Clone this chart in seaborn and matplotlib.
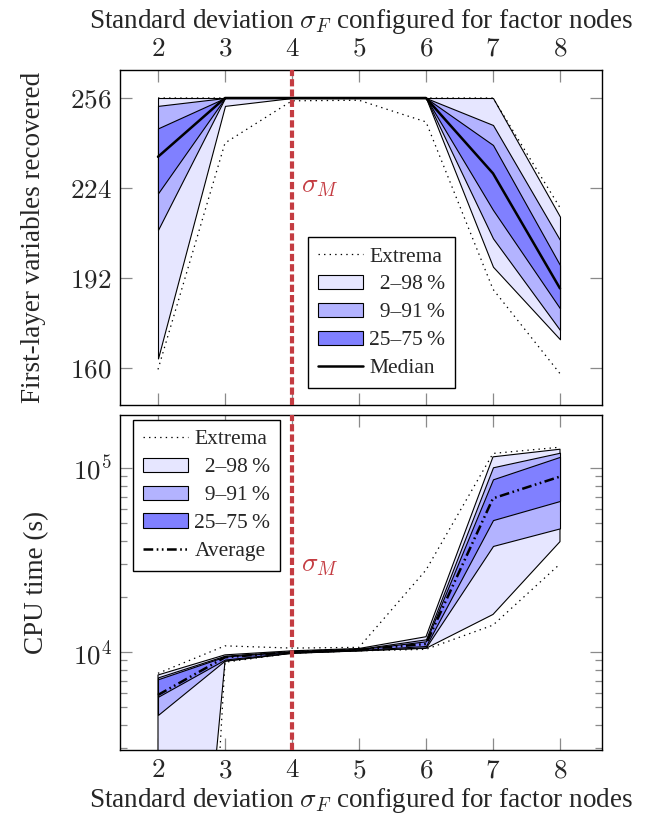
import numpy as np
import pandas as pd
import matplotlib
matplotlib.use("Agg")
import matplotlib.pyplot as plt
from matplotlib.lines import Line2D
from matplotlib.patches import Patch
from matplotlib.ticker import FixedLocator, LogLocator, NullFormatter, FuncFormatter
import seaborn as sns

# ---------------- data ----------------
sigma = [2, 3, 4, 5, 6, 7, 8]
xticks = [2, 3, 4, 5, 6, 7, 8]
sigma_M = 4

# first-layer variables recovered
rec_min = [159.5, 240.0, 255.0, 255.2, 247.5, 188.0, 158.0]
rec_p02 = [163.4, 253.2, 256.0, 256.0, 256.0, 196.0, 170.2]
rec_p09 = [209.1, 256.0, 256.0, 256.0, 256.0, 206.1, 173.5]
rec_p25 = [222.1, 256.0, 256.0, 256.0, 256.0, 216.2, 181.2]
rec_med = [235.1, 256.0, 256.0, 256.0, 256.0, 229.2, 188.3]
rec_p75 = [245.2, 256.0, 256.0, 256.0, 256.0, 239.3, 196.6]
rec_p91 = [253.2, 256.0, 256.0, 256.0, 256.0, 246.4, 205.5]
rec_p98 = [256.0, 256.0, 256.0, 256.0, 256.0, 256.0, 213.8]
rec_max = [256.0, 256.0, 256.0, 256.0, 256.0, 256.0, 217.0]
rec_yticks = [160, 192, 224, 256]

# CPU time (s)
cpu_min = [0.004, 8800, 9850, 10150, 10340, 14000, 30100]
cpu_p02 = [1.2, 8900, 9850, 10150, 10470, 16000, 39800]
cpu_p09 = [4550, 9000, 9900, 10200, 10600, 37700, 47000]
cpu_p25 = [5710, 9100, 9950, 10250, 10780, 52100, 66200]
cpu_avg = [5840, 9360, 10000, 10300, 11050, 68400, 89800]
cpu_p75 = [7110, 9450, 10050, 10350, 11430, 86800, 115000]
cpu_p91 = [7280, 9550, 10100, 10400, 11720, 100900, 121100]
cpu_p98 = [7500, 9650, 10150, 10450, 12110, 115000, 126500]
cpu_max = [7660, 10800, 10500, 10600, 27900, 120000, 129700]

band_labels = ["\u20072\u201398\u2009%", "\u20079\u201391\u2009%", "25\u201375\u2009%"]
xlabel_text = r"Standard deviation $\sigma_F$ configured for factor nodes"

# ---------------- style ----------------
sns.set_theme(style="ticks")
plt.rcParams["font.family"] = ["Liberation Serif", "DejaVu Serif"]
plt.rcParams["mathtext.fontset"] = "cm"
plt.rcParams["lines.scale_dashes"] = False

c_light = "#e6e6ff"
c_mid = "#b3b3ff"
c_dark = "#8080ff"
c_red = "#c43c42"
tick_gray = "#8a8a8a"

FS = 19.5     # axis labels
TFS = 19.5    # tick labels
LFS = 15.5    # legend

fig = plt.figure(figsize=(6.47, 8.19), dpi=100)
ax1 = fig.add_axes([120 / 647, 1 - 405 / 819, 482 / 647, 335 / 819])
ax2 = fig.add_axes([120 / 647, 1 - 750 / 819, 482 / 647, 335 / 819])

dot_ls = (0, (1.0, 3.0))
dashdotdot = (0, (7, 2.5, 1.2, 2.5, 1.2, 2.5))


def draw_panel(ax, lo, mi, hi, mid_vals, ext_lo, ext_hi, mid_ls):
    for (a, b, c) in [(lo[0], lo[1], c_light), (mi[0], mi[1], c_mid), (hi[0], hi[1], c_dark)]:
        ax.fill_between(sigma, a, b, facecolor=c, edgecolor="black", linewidth=0.8, zorder=2)
    for vals in (ext_lo, ext_hi):
        sns.lineplot(x=sigma, y=vals, ax=ax, color="black", linewidth=0.9,
                     linestyle=dot_ls, errorbar=None, legend=False, zorder=3)
    sns.lineplot(x=sigma, y=mid_vals, ax=ax, color="black", linewidth=1.8,
                 linestyle=mid_ls, errorbar=None, legend=False, zorder=4)
    ax.axvline(sigma_M, color=c_red, linewidth=3.0, linestyle=(0, (5.2, 2.2)), zorder=5)


draw_panel(ax1, (rec_p02, rec_p98), (rec_p09, rec_p91), (rec_p25, rec_p75),
           rec_med, rec_min, rec_max, "-")
draw_panel(ax2, (cpu_p02, cpu_p98), (cpu_p09, cpu_p91), (cpu_p25, cpu_p75),
           cpu_avg, cpu_min, cpu_max, dashdotdot)

xlim = (2 - 38 / 67, 8 + 42 / 67)
for ax in (ax1, ax2):
    ax.set_xlim(*xlim)
    ax.set_xticks(xticks)
    ax.xaxis.set_major_formatter(FuncFormatter(lambda v, p: r"$%d$" % v))
    for s in ax.spines.values():
        s.set_color("black")
        s.set_linewidth(1.0)
        s.set_visible(True)
    ax.tick_params(which="major", direction="in", length=8.5, width=0.9, color=tick_gray,
                   top=True, right=True, bottom=True, left=True, labelsize=TFS, pad=6)
    ax.tick_params(which="minor", direction="in", length=5, width=0.9, color=tick_gray,
                   left=True, right=True)
    ax.set_xlabel("")
    ax.set_ylabel("")

# top panel
ax1.set_ylim(160 - 37 / 2.8125, 256 + 28 / 2.8125)
ax1.set_yticks(rec_yticks)
ax1.yaxis.set_major_formatter(FuncFormatter(lambda v, p: r"$%d$" % v))
ax1.tick_params(axis="x", labeltop=True, labelbottom=False)
ax1.xaxis.set_label_position("top")
ax1.set_xlabel(xlabel_text, fontsize=FS, labelpad=6)
ax1.set_ylabel("First-layer variables recovered", fontsize=FS, labelpad=17)
ax1.text(4.13, 224.5, r"$\sigma_M$", color=c_red, fontsize=FS, va="center", ha="left")

# bottom panel
ax2.set_yscale("log")
ax2.set_ylim(10 ** (4 - 98 / 184), 10 ** (5 + 53 / 184))
ax2.yaxis.set_major_locator(FixedLocator([1e4, 1e5]))
ax2.yaxis.set_major_formatter(FuncFormatter(lambda v, p: r"$10^{%d}$" % round(np.log10(v))))
ax2.yaxis.set_minor_locator(LogLocator(base=10, subs=np.arange(2, 10)))
ax2.yaxis.set_minor_formatter(NullFormatter())
ax2.tick_params(axis="x", labeltop=False, labelbottom=True)
ax2.set_xlabel(xlabel_text, fontsize=FS, labelpad=2)
ax2.set_ylabel("CPU time (s)", fontsize=FS, labelpad=17)
ax2.text(4.13, 10 ** (4 + 87 / 184), r"$\sigma_M$", color=c_red, fontsize=FS, va="center", ha="left")


def make_handles(mid_label, mid_ls):
    h = [Line2D([], [], color="black", linewidth=0.9, linestyle=dot_ls)]
    for c in (c_light, c_mid, c_dark):
        h.append(Patch(facecolor=c, edgecolor="black", linewidth=0.8))
    h.append(Line2D([], [], color="black", linewidth=1.8, linestyle=mid_ls))
    labels = ["Extrema"] + band_labels + [mid_label]
    return h, labels


for ax, loc, anchor, lab, ls in [
    (ax1, "lower left", (0.39, 0.051), "Median", "-"),
    (ax2, "upper left", (0.027, 0.985), "Average", dashdotdot),
]:
    h, l = make_handles(lab, ls)
    leg = ax.legend(h, l, loc=loc, bbox_to_anchor=anchor, fontsize=LFS, frameon=True,
                    fancybox=False, edgecolor="black", framealpha=1.0,
                    handlelength=2.1, handleheight=0.65, handletextpad=0.3,
                    labelspacing=0.38, borderpad=0.45, borderaxespad=0.0)
    leg.get_frame().set_linewidth(1.0)
    leg.set_zorder(10)

fig.savefig("out.png", dpi=100)
